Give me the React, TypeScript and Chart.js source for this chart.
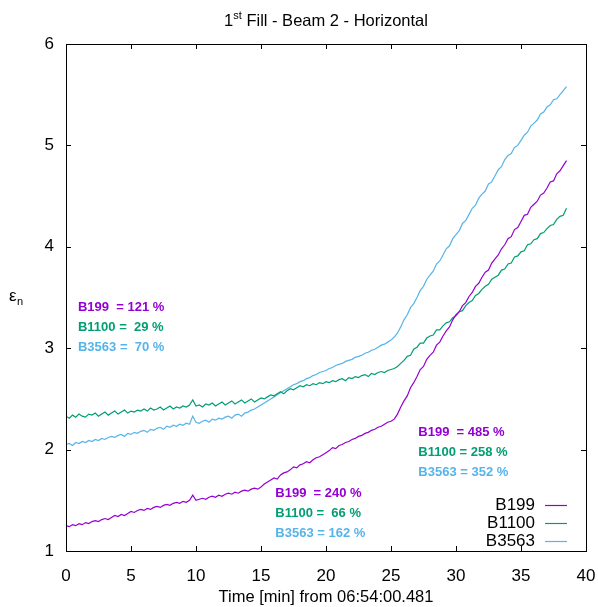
import { useEffect, useRef } from "react";
import { Chart, registerables } from "chart.js";

Chart.register(...registerables);

// ---- data ----
const timeStepMin = 0.25;
const startTimestamp = "06:54:00.481";
const chartTitleMain = "1";
const chartTitleSup = "st";
const chartTitleRest = " Fill - Beam 2 - Horizontal";
const seriesLabels = ["B199", "B1100", "B3563"];
const seriesColors = ["#9400D3", "#009E73", "#56B4E9"];

const b199 = [
  1.25, 1.24, 1.26, 1.25, 1.27, 1.26, 1.28, 1.27, 1.29, 1.30, 1.29, 1.31, 1.32, 1.31, 1.33, 1.35, 1.34, 1.36, 1.35, 1.37,
  1.39, 1.38, 1.40, 1.41, 1.40, 1.42, 1.41, 1.43, 1.44, 1.43, 1.45, 1.46, 1.45, 1.47, 1.48, 1.47, 1.49, 1.48, 1.50, 1.55,
  1.50, 1.51, 1.52, 1.51, 1.53, 1.54, 1.53, 1.55, 1.54, 1.56, 1.57, 1.56, 1.58, 1.57, 1.59, 1.60, 1.59, 1.61, 1.62, 1.61,
  1.63, 1.66, 1.68, 1.70, 1.72, 1.71, 1.75, 1.77, 1.78, 1.80, 1.83, 1.82, 1.85, 1.86, 1.88, 1.87, 1.90, 1.92, 1.93, 1.95,
  1.97, 1.99, 2.02, 2.01, 2.04, 2.05, 2.07, 2.08, 2.10, 2.11, 2.13, 2.14, 2.16, 2.17, 2.19, 2.20, 2.22, 2.23, 2.25, 2.27,
  2.28, 2.30, 2.35, 2.42, 2.48, 2.53, 2.61, 2.66, 2.72, 2.79, 2.82, 2.89, 2.93, 2.96, 3.03, 3.06, 3.12, 3.17, 3.21, 3.28,
  3.33, 3.36, 3.42, 3.45, 3.51, 3.55, 3.61, 3.64, 3.70, 3.75, 3.77, 3.84, 3.88, 3.92, 3.98, 4.02, 4.08, 4.10, 4.17, 4.19,
  4.25, 4.31, 4.32, 4.39, 4.42, 4.45, 4.51, 4.53, 4.58, 4.64, 4.65, 4.72, 4.75, 4.80, 4.85,
];

const b1100 = [
  2.33, 2.31, 2.34, 2.32, 2.35, 2.33, 2.32, 2.35, 2.34, 2.36, 2.33, 2.35, 2.37, 2.34, 2.36, 2.38, 2.35, 2.37, 2.39, 2.36,
  2.38, 2.37, 2.39, 2.38, 2.40, 2.38, 2.41, 2.39, 2.40, 2.42, 2.39, 2.41, 2.43, 2.40, 2.42, 2.41, 2.43, 2.42, 2.44, 2.49,
  2.43, 2.44, 2.42, 2.45, 2.44, 2.46, 2.43, 2.45, 2.47, 2.44, 2.46, 2.48, 2.45, 2.47, 2.49, 2.46, 2.48, 2.50, 2.47, 2.49,
  2.51, 2.50, 2.52, 2.54, 2.53, 2.55, 2.57, 2.55, 2.58, 2.60, 2.59, 2.61, 2.63, 2.62, 2.64, 2.63, 2.65, 2.64, 2.66, 2.65,
  2.67, 2.66, 2.68, 2.67, 2.69, 2.70, 2.68, 2.71, 2.70, 2.72, 2.71, 2.73, 2.74, 2.72, 2.75, 2.74, 2.76, 2.77, 2.76, 2.78,
  2.79, 2.80, 2.82, 2.85, 2.88, 2.92, 2.93, 2.99, 3.01, 3.05, 3.05, 3.10, 3.12, 3.13, 3.18, 3.18, 3.22, 3.25, 3.26, 3.30,
  3.32, 3.36, 3.37, 3.42, 3.45, 3.47, 3.52, 3.54, 3.58, 3.61, 3.63, 3.68, 3.70, 3.72, 3.77, 3.78, 3.83, 3.84, 3.90, 3.91,
  3.95, 3.96, 4.02, 4.03, 4.07, 4.08, 4.13, 4.14, 4.18, 4.21, 4.22, 4.27, 4.30, 4.31, 4.38,
];

const b3563 = [
  2.05, 2.06, 2.04, 2.07, 2.06, 2.08, 2.07, 2.09, 2.08, 2.10, 2.09, 2.11, 2.10, 2.12, 2.13, 2.12, 2.14, 2.15, 2.13, 2.16,
  2.15, 2.17, 2.16, 2.18, 2.19, 2.17, 2.20, 2.19, 2.21, 2.22, 2.20, 2.23, 2.22, 2.24, 2.23, 2.25, 2.24, 2.26, 2.25, 2.33,
  2.27, 2.26, 2.28, 2.29, 2.27, 2.30, 2.29, 2.31, 2.30, 2.32, 2.33, 2.31, 2.34, 2.35, 2.33, 2.36, 2.37, 2.39, 2.40, 2.42,
  2.44, 2.46, 2.48, 2.50, 2.52, 2.54, 2.56, 2.58, 2.60, 2.62, 2.64, 2.65, 2.67, 2.68, 2.70, 2.71, 2.73, 2.74, 2.76, 2.77,
  2.78, 2.80, 2.81, 2.83, 2.84, 2.85, 2.87, 2.88, 2.89, 2.91, 2.92, 2.93, 2.95, 2.96, 2.98, 2.99, 3.01, 3.03, 3.04, 3.06,
  3.08, 3.11, 3.15, 3.21, 3.28, 3.33, 3.40, 3.44, 3.50, 3.57, 3.61, 3.68, 3.72, 3.76, 3.83, 3.86, 3.92, 3.98, 4.01, 4.08,
  4.12, 4.16, 4.23, 4.26, 4.32, 4.38, 4.41, 4.48, 4.52, 4.55, 4.62, 4.64, 4.70, 4.76, 4.79, 4.86, 4.90, 4.92, 4.98, 5.00,
  5.05, 5.10, 5.13, 5.19, 5.22, 5.25, 5.31, 5.33, 5.38, 5.40, 5.45, 5.46, 5.50, 5.54, 5.58,
];

const seriesValues = [b199, b1100, b3563];

const annotationStart = ["B199  = 121 %", "B1100 =  29 %", "B3563 =  70 %"];
const annotationMid = ["B199  = 240 %", "B1100 =  66 %", "B3563 = 162 %"];
const annotationEnd = ["B199  = 485 %", "B1100 = 258 %", "B3563 = 352 %"];

const FONT = "'Liberation Sans', Arial, Helvetica, sans-serif";

const annotationGroups = [
  { lines: annotationStart, at: [0.92, 3.4] },
  { lines: annotationMid, at: [16.1, 1.57] },
  { lines: annotationEnd, at: [27.1, 2.17] },
];

const decorPlugin = {
  id: "gnuplotDecor",
  afterDraw(chart: any) {
    const { ctx, chartArea: a, scales } = chart;
    const xs = scales.x;
    const ys = scales.y;
    ctx.save();
    // frame
    ctx.strokeStyle = "#000";
    ctx.lineWidth = 1;
    ctx.strokeRect(Math.round(a.left) + 0.5, Math.round(a.top) + 0.5, Math.round(a.right - a.left), Math.round(a.bottom - a.top));
    // ticks (inside, mirrored)
    const tl = 5;
    ctx.beginPath();
    for (let v = 1; v <= 6; v += 1) {
      const py = Math.round(ys.getPixelForValue(v)) + 0.5;
      ctx.moveTo(a.left, py);
      ctx.lineTo(a.left + tl, py);
      ctx.moveTo(a.right, py);
      ctx.lineTo(a.right - tl, py);
    }
    for (let v = 0; v <= 40; v += 5) {
      const px = Math.round(xs.getPixelForValue(v)) + 0.5;
      ctx.moveTo(px, a.bottom);
      ctx.lineTo(px, a.bottom - tl);
      ctx.moveTo(px, a.top);
      ctx.lineTo(px, a.top + tl);
    }
    ctx.stroke();

    // title
    ctx.fillStyle = "#000";
    ctx.textBaseline = "alphabetic";
    ctx.textAlign = "left";
    const mainF = `16.5px ${FONT}`;
    const supF = `11px ${FONT}`;
    ctx.font = mainF;
    const w1 = ctx.measureText(chartTitleMain).width;
    const w3 = ctx.measureText(chartTitleRest).width;
    ctx.font = supF;
    const w2 = ctx.measureText(chartTitleSup).width;
    const total = w1 + w2 + w3;
    const cx = (a.left + a.right) / 2;
    let tx = cx - total / 2;
    const tBase = 26;
    ctx.font = mainF;
    ctx.fillText(chartTitleMain, tx, tBase);
    tx += w1;
    ctx.font = supF;
    ctx.fillText(chartTitleSup, tx, tBase - 7);
    tx += w2;
    ctx.font = mainF;
    ctx.fillText(chartTitleRest, tx, tBase);

    // x axis title
    ctx.textAlign = "center";
    ctx.font = mainF;
    ctx.fillText(`Time [min] from ${startTimestamp}`, cx, 602);

    // y axis title epsilon_n
    ctx.textAlign = "left";
    ctx.font = `17px ${FONT}`;
    ctx.fillText("ε", 9, 301);
    ctx.font = `11px ${FONT}`;
    ctx.fillText("n", 17, 305);

    // annotations
    ctx.font = `bold 13px ${FONT}`;
    ctx.textBaseline = "middle";
    annotationGroups.forEach((g) => {
      const px = xs.getPixelForValue(g.at[0]);
      const py = ys.getPixelForValue(g.at[1]);
      g.lines.forEach((t, i) => {
        ctx.fillStyle = seriesColors[i];
        ctx.fillText(t, px, py + i * 20);
      });
    });

    // legend
    ctx.font = `17px ${FONT}`;
    ctx.textAlign = "right";
    ctx.textBaseline = "middle";
    const legX = 535;
    const legY = 505;
    seriesLabels.forEach((lab, i) => {
      const y = legY + i * 18;
      ctx.fillStyle = "#000";
      ctx.fillText(lab, legX, y);
      ctx.strokeStyle = seriesColors[i];
      ctx.lineWidth = 1.2;
      ctx.beginPath();
      ctx.moveTo(545, Math.round(y) + 0.5);
      ctx.lineTo(567, Math.round(y) + 0.5);
      ctx.stroke();
    });
    ctx.restore();
  },
};

export default function App() {
  const canvasRef = useRef<HTMLCanvasElement | null>(null);

  useEffect(() => {
    const canvas = canvasRef.current;
    if (!canvas) return;
    const datasets = seriesLabels.map((label, s) => ({
      label,
      data: seriesValues[s].map((v, i) => ({ x: i * timeStepMin, y: v })),
      borderColor: seriesColors[s],
      backgroundColor: seriesColors[s],
      borderWidth: 1.2,
      pointRadius: 0,
      tension: 0,
      fill: false,
    }));
    const chart = new Chart(canvas, {
      type: "line",
      data: { datasets },
      options: {
        animation: false,
        responsive: false,
        devicePixelRatio: 1,
        layout: { padding: { left: 0, right: 12, top: 44, bottom: 0 } },
        plugins: {
          legend: { display: false },
          title: { display: false },
          tooltip: { enabled: false },
        },
        scales: {
          x: {
            type: "linear",
            min: 0,
            max: 40,
            grid: { display: false, drawTicks: false },
            border: { display: false },
            ticks: {
              stepSize: 5,
              color: "#000",
              font: { family: FONT, size: 17 },
              padding: 15,
              maxRotation: 0,
            },
            afterFit: (scale: any) => {
              scale.height = 56;
              scale.paddingLeft = 0;
              scale.paddingRight = 0;
            },
          },
          y: {
            type: "linear",
            min: 1,
            max: 6,
            grid: { display: false, drawTicks: false },
            border: { display: false },
            ticks: {
              stepSize: 1,
              color: "#000",
              font: { family: FONT, size: 17 },
              padding: 12,
            },
            afterFit: (scale: any) => {
              scale.width = 66;
              scale.paddingTop = 0;
              scale.paddingBottom = 0;
            },
          },
        },
      },
      plugins: [decorPlugin],
    });
    return () => chart.destroy();
  }, []);

  return (
    <div style={{ position: "absolute", left: 0, top: 0, width: 598, height: 607, background: "#fff" }}>
      <canvas ref={canvasRef} width={598} height={607} style={{ width: 598, height: 607, display: "block" }} />
    </div>
  );
}
